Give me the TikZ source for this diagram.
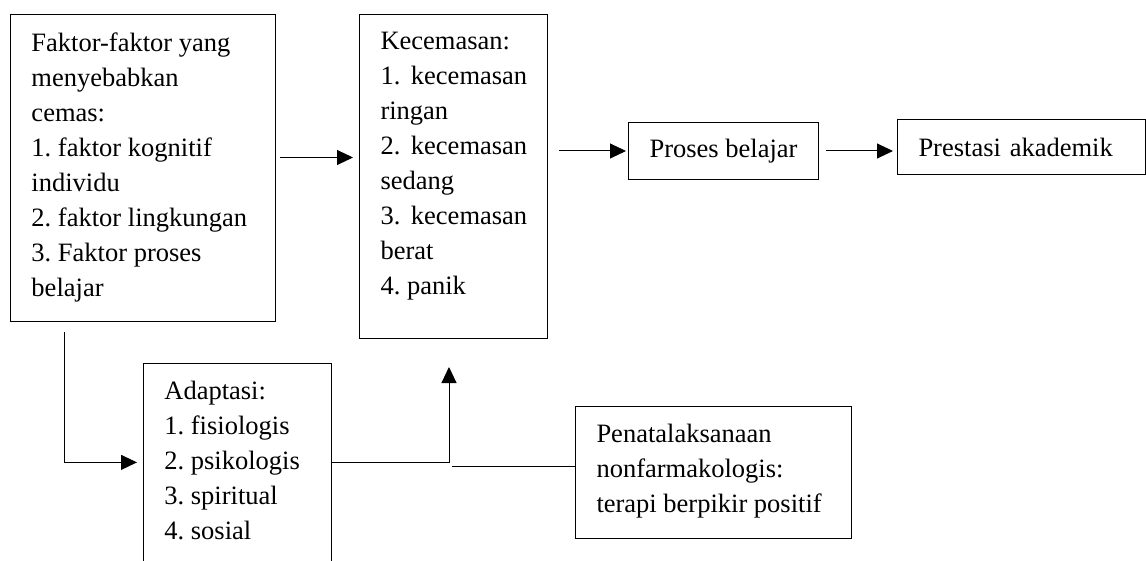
\documentclass[tikz,border=0pt]{standalone}
\usepackage{fontspec}
\setmainfont{Liberation Serif}
\usetikzlibrary{arrows.meta}
\frenchspacing
\hyphenpenalty=10000

\tikzset{
  kotak/.style={draw, line width=0.5pt, anchor=north west, inner xsep=10.5pt, inner ysep=9pt},
  panah/.style={-{Triangle[length=8pt,width=7.5pt]}, line width=0.5pt},
}

\begin{document}
\begin{tikzpicture}[x=0.5pt, y=-0.5pt, font=\fontsize{13.25pt}{17.5pt}\selectfont]
\useasboundingbox (0,0) rectangle (1146,561);

\node[kotak] (faktor) at (10,14) {\parbox[t][135.5pt][t]{111.5pt}{Faktor-faktor yang\\ menyebabkan\\ cemas:\\ 1. faktor kognitif\\ individu\\ 2. faktor lingkungan\\ 3. Faktor proses\\ belajar}};
\node[kotak] (cemas) at (359,14) {\parbox[t][144pt][t]{73pt}{Kecemasan:\\ \mbox{1.\hspace{0.4em}kecemasan}\\ ringan\\ \mbox{2.\hspace{0.4em}kecemasan}\\ sedang\\ \mbox{3.\hspace{0.4em}kecemasan}\\ berat\\ 4. panik}};
\node[kotak, inner sep=0pt, minimum width=95pt, minimum height=28.5pt] (proses) at (628,122) {Proses belajar};
\node[kotak, inner ysep=0pt, minimum height=27.5pt, text width=103pt, align=left] (prestasi) at (897,119) {Prestasi akademik};

\node[anchor=north west, inner xsep=10.5pt, inner ysep=9pt] (adapt) at (143,363) {\parbox[t][81pt][t]{73pt}{Adaptasi:\\ 1. fisiologis\\ 2. psikologis\\ 3. spiritual\\ 4. sosial}};
\draw[line width=0.5pt] (adapt.south west) -- (adapt.north west) -- (adapt.north east) -- (adapt.south east);
\node[kotak] (penata) at (575,406) {\parbox[t][48pt][t]{117pt}{Penatalaksanaan\\ nonfarmakologis:\\ terapi berpikir positif}};

\coordinate (naik) at ([xshift=45pt]cemas.south west);

\draw[panah, shorten <=2pt, shorten >=3pt] ([yshift=5.25pt]faktor.east) -- ([yshift=5.25pt]faktor.east -| cemas.west);
\draw[panah, shorten <=5.5pt, shorten >=1pt] (cemas.east |- proses.west) -- (proses.west);
\draw[panah, shorten <=3.5pt, shorten >=2pt] (proses.east) -- (proses.east -| prestasi.west);

\draw[panah, shorten <=5pt, shorten >=3pt] ([xshift=27pt]faktor.south west) |- (adapt.west);
\draw[panah, shorten >=14pt] (adapt.east) -| (naik);
\draw[line width=0.75pt, shorten >=1.5pt] ([yshift=3pt]penata.west) -- ([yshift=3pt]penata.west -| naik);
\end{tikzpicture}
\end{document}
